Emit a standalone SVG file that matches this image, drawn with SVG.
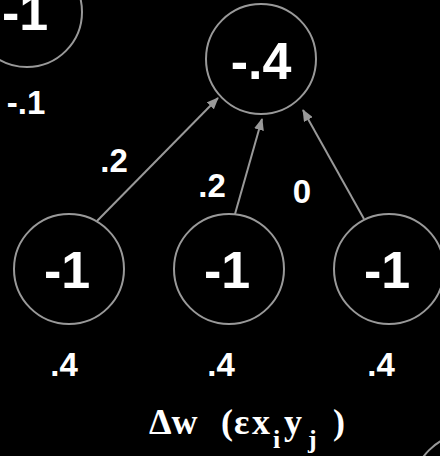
<svg xmlns="http://www.w3.org/2000/svg" width="440" height="456" viewBox="0 0 440 456">
<defs>
<marker id="ah" viewBox="0 0 12 10" refX="11" refY="5" markerWidth="12" markerHeight="10" markerUnits="userSpaceOnUse" orient="auto">
<path d="M0,0 L12,5 L0,10 Z" fill="#999"/>
</marker>
</defs>
<style>
.n{fill:#000;stroke:#999;stroke-width:2}
.big{font-family:"Liberation Sans",Arial,sans-serif;font-weight:bold;font-size:52px;fill:#fff;text-anchor:middle}
.sm{font-family:"Liberation Sans",Arial,sans-serif;font-weight:bold;font-size:33px;fill:#fff;text-anchor:middle}
.e{stroke:#999;stroke-width:2;fill:none;marker-end:url(#ah)}
.f{font-family:"Liberation Serif","Times New Roman",serif;font-weight:bold;fill:#fff}
</style>
<rect width="440" height="456" fill="#000"/>
<g id="edges">
<line class="e" x1="97" y1="221" x2="218" y2="98"/>
<line class="e" x1="235" y1="214" x2="262" y2="119"/>
<line class="e" x1="364" y1="219" x2="303" y2="110"/>
</g>
<g id="n-topleft"><circle class="n" cx="27" cy="12" r="55"/><text class="big" x="25" y="30">-1</text></g>
<g id="n-top"><circle class="n" cx="261" cy="59" r="55"/><text class="big" x="261" y="79">-.4</text></g>
<g id="n-b1"><circle class="n" cx="69" cy="269" r="55"/><text class="big" x="67" y="288">-1</text></g>
<g id="n-b2"><circle class="n" cx="229" cy="269" r="55"/><text class="big" x="227" y="288">-1</text></g>
<g id="n-b3"><circle class="n" cx="389" cy="269" r="55"/><text class="big" x="387" y="288">-1</text></g>
<g id="n-corner"><circle class="n" cx="468" cy="489" r="55"/></g>
<g id="labels">
<text class="sm" x="26" y="114">-.1</text>
<text class="sm" x="114" y="172">.2</text>
<text class="sm" x="212" y="197">.2</text>
<text class="sm" x="302" y="203">0</text>
<text class="sm" x="64" y="376">.4</text>
<text class="sm" x="221" y="376">.4</text>
<text class="sm" x="381" y="376">.4</text>
</g>
<g id="formula">
<text class="f" font-size="36" y="434"><tspan x="149">Δw</tspan><tspan x="221">(</tspan><tspan x="234">ε</tspan><tspan x="252">x</tspan><tspan x="273" font-size="26" dy="14">i</tspan><tspan x="284" dy="-14">y</tspan><tspan x="308" font-size="26" dy="14">j</tspan><tspan x="333" dy="-14">)</tspan></text>
</g>
</svg>
